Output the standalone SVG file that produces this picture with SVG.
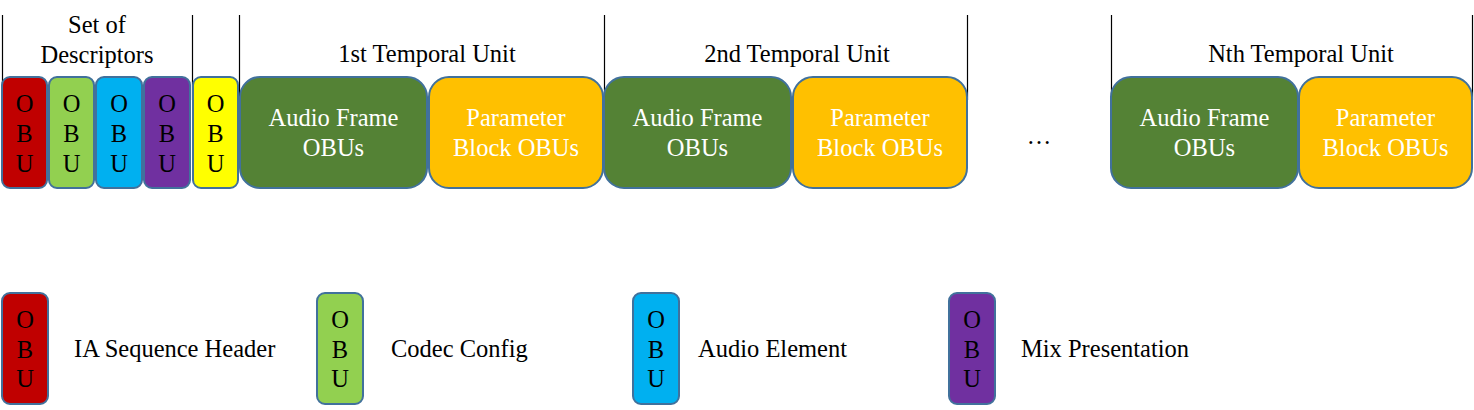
<svg xmlns="http://www.w3.org/2000/svg" width="1474" height="410" viewBox="0 0 1474 410" font-family="Liberation Serif, Times New Roman, serif" font-size="24.5">
<style>
text{fill:#000}
.c{text-anchor:middle}
.w{fill:#fff;text-anchor:middle}
.box{stroke:#41719C;stroke-width:2}
.sep{stroke:#000;stroke-width:1.2;fill:none}
</style>
<g id="separators">
<line class="sep" x1="2.5" y1="15" x2="2.5" y2="100"/>
<line class="sep" x1="192.5" y1="15" x2="192.5" y2="100"/>
<line class="sep" x1="239.5" y1="15" x2="239.5" y2="100"/>
<line class="sep" x1="604.5" y1="15" x2="604.5" y2="100"/>
<line class="sep" x1="967.5" y1="15" x2="967.5" y2="100"/>
<line class="sep" x1="1111.5" y1="15" x2="1111.5" y2="100"/>
<line class="sep" x1="1472.5" y1="15" x2="1472.5" y2="100"/>
</g>
<g id="labels">
<text class="c" x="97" y="33">Set of</text>
<text class="c" x="97" y="63">Descriptors</text>
<text class="c" x="427" y="62">1st Temporal Unit</text>
<text class="c" x="797" y="62">2nd Temporal Unit</text>
<text class="c" x="1301" y="62">Nth Temporal Unit</text>
<text class="c" x="1039" y="144">…</text>
</g>
<g id="obu-seqhdr">
<rect class="box" x="2" y="77" width="45" height="111" rx="8" fill="#C00000"/>
<text class="c" x="24.5" y="112">O</text><text class="c" x="24.5" y="142">B</text><text class="c" x="24.5" y="172">U</text>
</g>
<g id="obu-codec">
<rect class="box" x="49" y="77" width="45" height="111" rx="8" fill="#92D050"/>
<text class="c" x="71.5" y="112">O</text><text class="c" x="71.5" y="142">B</text><text class="c" x="71.5" y="172">U</text>
</g>
<g id="obu-audioel">
<rect class="box" x="96" y="77" width="46" height="111" rx="8" fill="#00B0F0"/>
<text class="c" x="119" y="112">O</text><text class="c" x="119" y="142">B</text><text class="c" x="119" y="172">U</text>
</g>
<g id="obu-mix">
<rect class="box" x="144" y="77" width="46" height="111" rx="8" fill="#7030A0"/>
<text class="c" x="167" y="112">O</text><text class="c" x="167" y="142">B</text><text class="c" x="167" y="172">U</text>
</g>
<g id="obu-yellow">
<rect class="box" x="193" y="77" width="45" height="111" rx="8" fill="#FFFF00"/>
<text class="c" x="215.5" y="112">O</text><text class="c" x="215.5" y="142">B</text><text class="c" x="215.5" y="172">U</text>
</g>
<g id="tu1-audio">
<rect class="box" x="240" y="77" width="187" height="111" rx="20" fill="#548235"/>
<text class="w" x="333.5" y="126">Audio Frame</text><text class="w" x="333.5" y="156">OBUs</text>
</g>
<g id="tu1-param">
<rect class="box" x="429" y="77" width="174" height="111" rx="20" fill="#FFC000"/>
<text class="w" x="516" y="126">Parameter</text><text class="w" x="516" y="156">Block OBUs</text>
</g>
<g id="tu2-audio">
<rect class="box" x="604" y="77" width="187" height="111" rx="20" fill="#548235"/>
<text class="w" x="697.5" y="126">Audio Frame</text><text class="w" x="697.5" y="156">OBUs</text>
</g>
<g id="tu2-param">
<rect class="box" x="793" y="77" width="174" height="111" rx="20" fill="#FFC000"/>
<text class="w" x="880" y="126">Parameter</text><text class="w" x="880" y="156">Block OBUs</text>
</g>
<g id="tun-audio">
<rect class="box" x="1111" y="77" width="187" height="111" rx="20" fill="#548235"/>
<text class="w" x="1204.5" y="126">Audio Frame</text><text class="w" x="1204.5" y="156">OBUs</text>
</g>
<g id="tun-param">
<rect class="box" x="1299" y="77" width="173" height="111" rx="20" fill="#FFC000"/>
<text class="w" x="1385.5" y="126">Parameter</text><text class="w" x="1385.5" y="156">Block OBUs</text>
</g>
<g id="legend-seqhdr">
<rect class="box" x="2" y="293" width="46" height="111" rx="8" fill="#C00000"/>
<text class="c" x="25" y="328">O</text><text class="c" x="25" y="358">B</text><text class="c" x="25" y="387">U</text>
<text x="74" y="357">IA Sequence Header</text>
</g>
<g id="legend-codec">
<rect class="box" x="317" y="293" width="46" height="111" rx="8" fill="#92D050"/>
<text class="c" x="340" y="328">O</text><text class="c" x="340" y="358">B</text><text class="c" x="340" y="387">U</text>
<text x="391" y="357">Codec Config</text>
</g>
<g id="legend-audioel">
<rect class="box" x="633" y="293" width="46" height="111" rx="8" fill="#00B0F0"/>
<text class="c" x="656" y="328">O</text><text class="c" x="656" y="358">B</text><text class="c" x="656" y="387">U</text>
<text x="698" y="357">Audio Element</text>
</g>
<g id="legend-mix">
<rect class="box" x="949" y="293" width="46" height="111" rx="8" fill="#7030A0"/>
<text class="c" x="972" y="328">O</text><text class="c" x="972" y="358">B</text><text class="c" x="972" y="387">U</text>
<text x="1021" y="357">Mix Presentation</text>
</g>
</svg>
